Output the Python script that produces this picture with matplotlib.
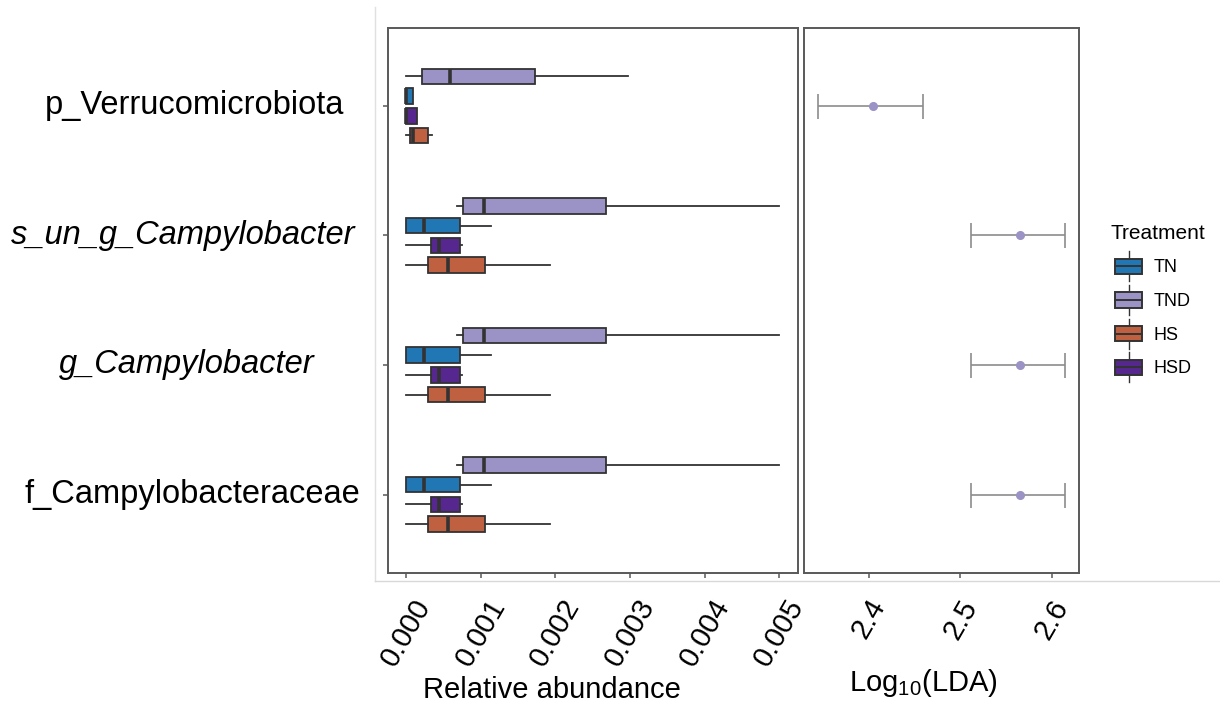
import numpy as np
import matplotlib
matplotlib.use("Agg")
import matplotlib.pyplot as plt
from matplotlib.patches import Patch, Rectangle
from matplotlib.lines import Line2D
from matplotlib.legend_handler import HandlerBase
import matplotlib.transforms as mtransforms

plt.rcParams['font.family'] = ['Liberation Sans', 'DejaVu Sans']
plt.rcParams['mathtext.fontset'] = 'custom'
plt.rcParams['mathtext.rm'] = 'Liberation Sans'
plt.rcParams['mathtext.it'] = 'Liberation Sans:italic'

# taxa shown top to bottom
taxa = ["p_Verrucomicrobiota", "s_un_g_Campylobacter", "g_Campylobacter", "f_Campylobacteraceae"]
taxa_italic = [False, True, True, False]
taxa_label_x = [195, 183, 187, 192]  # label centres, pixels

# boxplot stats per treatment: (whislo, q1, med, q3, whishi) for each taxon
box_order = ["TND", "TN", "HSD", "HS"]
stats_TND = [(0.0, 0.00021, 0.00059, 0.00173, 0.00298),
             (0.00068, 0.00076, 0.00105, 0.00268, 0.00500),
             (0.00068, 0.00076, 0.00105, 0.00268, 0.00500),
             (0.00068, 0.00076, 0.00105, 0.00268, 0.00500)]
stats_TN = [(0.0, 0.0, 0.0, 0.00009, 0.00009),
            (0.0, 0.0, 0.00024, 0.00072, 0.00114),
            (0.0, 0.0, 0.00024, 0.00072, 0.00114),
            (0.0, 0.0, 0.00024, 0.00072, 0.00114)]
stats_HSD = [(0.0, 0.0, 0.0, 0.00015, 0.00015),
             (0.0, 0.00034, 0.00044, 0.00072, 0.00075),
             (0.0, 0.00034, 0.00044, 0.00072, 0.00075),
             (0.0, 0.00034, 0.00044, 0.00072, 0.00075)]
stats_HS = [(0.0, 0.00005, 0.00010, 0.00029, 0.00035),
            (0.0, 0.00029, 0.00056, 0.00106, 0.00193),
            (0.0, 0.00029, 0.00056, 0.00106, 0.00193),
            (0.0, 0.00029, 0.00056, 0.00106, 0.00193)]
all_stats = {"TND": stats_TND, "TN": stats_TN, "HSD": stats_HSD, "HS": stats_HS}

# LDA scores (log10) with interval
lda_mean = [2.404, 2.565, 2.565, 2.565]
lda_low = [2.344, 2.511, 2.511, 2.511]
lda_high = [2.459, 2.614, 2.614, 2.614]

legend_order = ["TN", "TND", "HS", "HSD"]
colors = {"TN": "#2077b4", "TND": "#9b92c5", "HS": "#bf6140", "HSD": "#56288f"}
edge = "#333333"
frame = "#595959"

W, H = 1220, 709
fig = plt.figure(figsize=(W / 100, H / 100), dpi=100)

ax = fig.add_axes([388 / W, 1 - 573 / H, (798 - 388) / W, (573 - 28) / H])
ax2 = fig.add_axes([804 / W, 1 - 573 / H, (1079 - 804) / W, (573 - 28) / H])

ypos = np.arange(1, len(taxa) + 1)
offsets = {"TND": -0.228, "TN": -0.076, "HSD": 0.076, "HS": 0.228}

for t in box_order:
    bxp_stats = []
    for s in all_stats[t]:
        lo, q1, med, q3, hi = s
        bxp_stats.append(dict(whislo=lo, q1=q1, med=med, q3=q3, whishi=hi, fliers=[]))
    ax.bxp(bxp_stats, positions=ypos + offsets[t], widths=0.12, vert=False,
           patch_artist=True, showcaps=False, showfliers=False,
           boxprops=dict(facecolor=colors[t], edgecolor=edge, linewidth=1.3),
           whiskerprops=dict(color=edge, linewidth=1.3),
           medianprops=dict(color=edge, linewidth=2.6, solid_capstyle='butt'))

ax.set_xlim(-0.000241, 0.005251)
ax.set_ylim(4.606, 0.398)
ax.set_xticks([0.0, 0.001, 0.002, 0.003, 0.004, 0.005])
ax.set_xticklabels(["0.000", "0.001", "0.002", "0.003", "0.004", "0.005"],
                   rotation=60, ha='center', va='top', fontsize=21)
ax.set_yticks(ypos)
ax.set_yticklabels([])
ax.set_xlabel("Relative abundance", fontsize=21)
ax.xaxis.set_label_coords(0.401, -0.215)
ax.xaxis.label.set_va('center')

# taxon names centred in the left margin
blend = mtransforms.blended_transform_factory(fig.transFigure, ax.transData)
for i, name in enumerate(taxa):
    ax.text(taxa_label_x[i] / W, ypos[i], name, transform=blend, ha='center', va='center',
            fontsize=23.5, style='italic' if taxa_italic[i] else 'normal', color='black')

# LDA panel
xerr = [np.array(lda_mean) - np.array(lda_low), np.array(lda_high) - np.array(lda_mean)]
ax2.errorbar(lda_mean, ypos, xerr=xerr, fmt='o', color='#9b92c5', markersize=5.5,
             ecolor='#8c8c8c', elinewidth=1.2, capsize=9, capthick=1.2)
ax2.set_xlim(2.329, 2.6295)
ax2.set_ylim(4.606, 0.398)
ax2.set_yticks([])
ax2.set_xticks([2.4, 2.5, 2.6])
ax2.set_xticklabels(["2.4", "2.5", "2.6"], rotation=60, ha='center', va='top', fontsize=21)
ax2.set_xlabel(r"Log$_{10}$(LDA)", fontsize=21)
ax2.xaxis.set_label_coords(0.433, -0.202)
ax2.xaxis.label.set_va('center')

for a in (ax, ax2):
    for sp in a.spines.values():
        sp.set_color(frame)
        sp.set_linewidth(1.4)
    a.tick_params(axis='both', color=frame, length=3.5, width=1.1, pad=12)
ax.tick_params(axis='y', pad=2)


class BoxKey(HandlerBase):
    # little boxplot glyph for the legend keys
    def create_artists(self, legend, orig_handle, xdescent, ydescent, width, height, fontsize, trans):
        x0, y0 = -xdescent, -ydescent
        cx, cy = x0 + width / 2, y0 + height / 2
        bh = height * 0.72
        stub = Line2D([cx, cx], [y0 - 0.2 * height, y0 + 1.2 * height], color=edge, lw=1.0, transform=trans)
        box = Rectangle((x0, cy - bh / 2), width, bh, facecolor=orig_handle.get_facecolor(),
                        edgecolor=edge, lw=1.4, transform=trans)
        med = Line2D([x0, x0 + width], [cy, cy], color=edge, lw=1.4, transform=trans)
        return [stub, box, med]


handles = [Patch(facecolor=colors[t], label=t) for t in legend_order]
leg = fig.legend(handles=handles, title="Treatment", loc='upper left',
                 bbox_to_anchor=(1099 / W, 1 - 208 / H), frameon=False,
                 fontsize=13, title_fontsize=15, handlelength=1.5, handleheight=1.45,
                 labelspacing=0.68, handletextpad=0.6, alignment='left',
                 handler_map={Patch: BoxKey()})
leg.get_title().set_position((-5, 0))

# faint outer border lines
fig.add_artist(Line2D([375 / W, 375 / W], [1 - 7 / H, 1 - 581 / H], transform=fig.transFigure,
                      color='#e0e0e0', lw=1))
fig.add_artist(Line2D([375 / W, 1.0], [1 - 581 / H, 1 - 581 / H], transform=fig.transFigure,
                      color='#d8d8d8', lw=1))

fig.savefig("out.png", dpi=100)
